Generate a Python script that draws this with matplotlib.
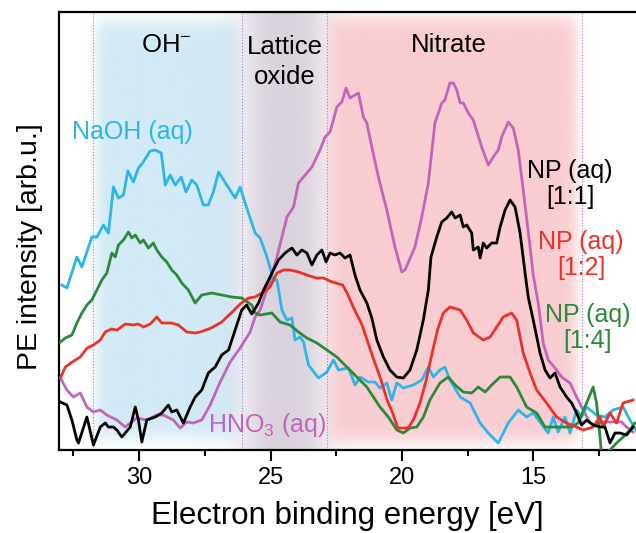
import numpy as np
import matplotlib
matplotlib.use("Agg")
import matplotlib.pyplot as plt
from matplotlib.colors import to_rgb
from matplotlib.ticker import MultipleLocator

plt.rcParams['font.family'] = ['Liberation Sans', 'DejaVu Sans']
plt.rcParams['mathtext.fontset'] = 'custom'
plt.rcParams['mathtext.rm'] = 'Liberation Sans'
plt.rcParams['mathtext.it'] = 'Liberation Sans:italic'

# --- data: binding energy [eV] vs PE intensity [arb.u.] ---
naoh_E = [32.94, 32.75, 32.37, 32.18, 31.80, 31.61, 31.36, 31.17, 30.98, 30.79, 30.60, 30.43, 30.22, 30.03, 29.87,
          29.58, 29.39, 29.16, 29.01, 28.82, 28.63, 28.40, 28.22, 28.00, 27.81, 27.56, 27.37, 27.18, 26.98, 26.67,
          26.35, 26.16, 25.97, 25.59, 25.40, 25.14, 24.89, 24.76, 24.57, 24.38, 24.19, 24.07, 23.88, 23.75, 23.56,
          23.18, 22.86, 22.61, 22.42, 22.04, 21.79, 21.60, 21.28, 21.03, 20.84, 20.58, 20.39, 20.20, 19.95, 19.57,
          19.25, 19.00, 18.81, 18.56, 18.37, 18.18, 17.79, 17.41, 17.03, 16.72, 16.34, 15.96, 15.58, 15.26, 15.01,
          14.44, 14.25, 14.06, 13.80, 13.61, 13.36, 13.17, 12.98, 12.60, 12.28, 11.97, 11.59, 11.33, 11.10]
naoh_I = [165, 162, 193, 183, 213, 213, 225, 217, 263, 252, 255, 279, 268, 282, 287,
          299, 300, 297, 265, 275, 265, 273, 258, 270, 265, 245, 245, 258, 278, 265,
          252, 263, 247, 217, 212, 193, 170, 170, 140, 130, 132, 110, 113, 108, 85,
          72, 78, 90, 80, 82, 65, 73, 68, 68, 62, 67, 50, 67, 62, 65,
          70, 83, 73, 80, 83, 70, 53, 47, 27, 17, 7, 27, 40, 33, 37,
          17, 33, 18, 33, 17, 40, 33, 43, 35, 33, 40, 43, 30, 20]

hno3_E = [33.00, 32.75, 32.50, 32.24, 31.99, 31.74, 31.48, 31.23, 30.85, 30.53, 30.09, 29.71, 29.33, 29.08, 28.70,
          28.44, 28.19, 27.94, 27.62, 27.30, 26.92, 26.54, 26.16, 25.78, 25.59, 25.40, 25.02, 24.76, 24.38, 24.13,
          23.94, 23.62, 23.43, 23.12, 22.93, 22.74, 22.48, 22.29, 22.13, 21.98, 21.66, 21.47, 21.34, 21.15, 20.90,
          20.58, 20.27, 20.01, 19.89, 19.51, 19.25, 19.00, 18.75, 18.49, 18.37, 18.18, 18.05, 17.92, 17.79, 17.67,
          17.48, 17.29, 16.97, 16.72, 16.53, 16.34, 16.21, 15.96, 15.77, 15.58, 15.39, 15.13, 15.01, 14.82, 14.63,
          14.44, 14.18, 13.93, 13.61, 13.36, 13.11, 12.85, 12.66, 12.35, 11.97, 11.65, 11.46, 11.21]
hno3_I = [72, 60, 53, 57, 43, 38, 40, 35, 30, 23, 32, 30, 35, 35, 30,
          22, 28, 27, 30, 45, 68, 88, 102, 118, 133, 140, 170, 193, 233, 243,
          267, 277, 283, 300, 313, 318, 343, 348, 362, 352, 357, 333, 327, 303, 273,
          240, 203, 178, 180, 203, 233, 267, 327, 347, 350, 367, 367, 360, 347, 347,
          337, 330, 303, 285, 293, 300, 313, 328, 322, 300, 260, 203, 175, 147, 107,
          90, 82, 73, 67, 53, 40, 27, 25, 28, 28, 28, 23, 18]

np11_E = [33.00, 32.75, 32.56, 32.37, 32.31, 31.99, 31.74, 31.48, 31.29, 31.17, 30.98, 30.85, 30.66, 30.34, 30.15,
          30.03, 29.90, 29.71, 29.39, 29.14, 28.89, 28.76, 28.57, 28.32, 28.06, 27.87, 27.62, 27.37, 27.11, 26.86,
          26.60, 26.35, 26.10, 25.91, 25.72, 25.46, 25.27, 25.02, 24.95, 24.70, 24.45, 24.19, 24.00, 23.81, 23.62,
          23.43, 23.24, 23.05, 22.89, 22.74, 22.55, 22.36, 22.17, 21.98, 21.79, 21.60, 21.34, 21.15, 20.96, 20.71,
          20.46, 20.20, 19.95, 19.70, 19.44, 19.19, 19.00, 18.90, 18.68, 18.49, 18.30, 18.11, 17.98, 17.79, 17.67,
          17.54, 17.35, 17.29, 17.10, 17.03, 16.91, 16.78, 16.59, 16.40, 16.27, 16.08, 15.89, 15.70, 15.51, 15.32,
          15.20, 15.01, 14.75, 14.56, 14.37, 14.18, 13.99, 13.74, 13.55, 13.36, 13.17, 12.98, 12.73, 12.47, 12.28,
          12.09, 11.90, 11.71, 11.46, 11.21]
np11_I = [48, 45, 30, 10, 7, 33, 5, 23, 27, 23, 23, 20, 13, 23, 43,
          30, 8, 30, 33, 37, 45, 38, 40, 27, 43, 53, 60, 77, 83, 95,
          100, 120, 140, 145, 136, 147, 160, 173, 177, 190, 197, 202, 195, 200, 197,
          185, 195, 200, 188, 197, 195, 197, 192, 195, 175, 160, 147, 132, 110, 93,
          80, 73, 72, 80, 100, 130, 160, 193, 213, 228, 232, 238, 232, 235, 223,
          225, 217, 200, 203, 192, 207, 202, 207, 207, 223, 240, 250, 243, 217, 177,
          153, 130, 97, 80, 72, 77, 63, 53, 47, 37, 25, 30, 25, 23, 23,
          7, 17, 17, 15, 23]

np12_E = [33.00, 32.81, 32.55, 32.24, 31.98, 31.74, 31.48, 31.29, 31.06, 30.84, 30.53, 30.22, 30.04, 29.84, 29.58,
          29.33, 29.14, 28.97, 28.78, 28.51, 28.19, 27.87, 27.68, 27.26, 26.86, 26.50, 26.16, 25.84, 25.59, 25.27,
          25.02, 24.76, 24.51, 24.26, 23.94, 23.62, 23.27, 22.99, 22.66, 22.26, 22.09, 21.86, 21.52, 21.33, 21.10,
          20.80, 20.57, 20.34, 20.17, 19.96, 19.77, 19.57, 19.32, 19.08, 18.83, 18.65, 18.43, 18.18, 17.79, 17.54,
          17.29, 16.91, 16.65, 16.40, 16.15, 15.83, 15.64, 15.39, 15.13, 14.88, 14.50, 14.12, 13.74, 13.36, 13.11,
          12.73, 12.47, 12.35, 12.09, 11.84, 11.59, 11.21]
np12_I = [72, 83, 88, 93, 102, 105, 110, 118, 121, 120, 126, 125, 126, 123, 126,
          133, 127, 127, 127, 125, 118, 117, 118, 122, 128, 137, 146, 152, 153, 158,
          163, 177, 180, 180, 178, 175, 172, 172, 168, 165, 157, 143, 125, 110, 92,
          70, 50, 36, 22, 22, 22, 30, 47, 70, 100, 120, 137, 143, 140, 130,
          117, 110, 113, 123, 133, 137, 130, 97, 77, 60, 47, 33, 27, 23, 20,
          23, 33, 23, 37, 27, 47, 50]

np14_E = [33.00, 32.81, 32.56, 32.37, 32.18, 31.99, 31.80, 31.61, 31.42, 31.23, 31.04, 30.91, 30.79, 30.60, 30.41,
          30.28, 30.15, 29.96, 29.84, 29.65, 29.46, 29.33, 29.14, 28.95, 28.76, 28.57, 28.38, 28.13, 27.87, 27.62,
          27.24, 26.86, 26.48, 26.10, 25.72, 25.59, 25.40, 24.95, 24.64, 24.26, 23.94, 23.62, 23.24, 22.86, 22.48,
          22.10, 21.72, 21.34, 21.09, 20.84, 20.52, 20.20, 19.95, 19.70, 19.44, 19.19, 18.94, 18.56, 18.24, 17.98,
          17.67, 17.35, 17.10, 16.84, 16.59, 16.27, 15.89, 15.64, 15.26, 14.88, 14.56, 14.25, 13.87, 13.55, 13.30,
          12.98, 12.73, 12.60, 12.47, 12.41, 12.09, 11.84, 11.59, 11.33, 11.14]
np14_I = [108, 112, 115, 127, 137, 145, 150, 160, 170, 177, 197, 193, 205, 210, 218,
          212, 215, 207, 210, 202, 207, 200, 193, 188, 180, 175, 167, 160, 147, 155,
          157, 155, 153, 152, 145, 137, 135, 137, 128, 125, 118, 112, 107, 100, 93,
          83, 73, 63, 53, 43, 33, 20, 17, 22, 23, 33, 50, 67, 73, 65,
          58, 57, 63, 58, 65, 73, 73, 63, 43, 37, 23, 23, 23, 23, 27,
          47, 63, 47, 13, -5, 0, 7, 13, 20, 27]

region_edges = [31.76, 26.08, 22.84, 13.14]
region_labels = ['OH$^{-}$', 'Lattice\noxide', 'Nitrate']
region_label_E = [28.97, 24.45, 18.21]

x_lo, x_hi = 33.05, 11.1
y_lo, y_hi = 0, 438

fig = plt.figure(figsize=(6.36, 5.33), dpi=100)
ax = fig.add_axes([0.0928, 0.1557, 0.9072, 0.8218])


def sig(z):
    return 1.0 / (1.0 + np.exp(-z))


def soft_band(lo, hi, soft, ylo, yhi, ysoft, color, peak=1.0):
    e = np.linspace(x_lo, x_hi, 700)
    v = np.linspace(y_lo, y_hi, 400)
    fx = sig((e - lo) / soft) * sig((hi - e) / soft)
    fy = sig((v - ylo) / ysoft) * sig((yhi - v) / ysoft)
    rgba = np.zeros((len(v), len(e), 4))
    rgba[..., :3] = to_rgb(color)
    rgba[..., 3] = np.outer(fy, fx) * peak
    ax.imshow(rgba, extent=(x_lo, x_hi, y_lo, y_hi), origin='lower', aspect='auto',
              interpolation='bilinear', zorder=0)


# shaded regions
soft_band(26.25, 31.62, 0.12, 12, 428, 5, '#d2eaf6')
soft_band(23.0, 25.95, 0.35, -100, 600, 1, '#d5cbd8', peak=0.9)
soft_band(13.35, 22.78, 0.15, 8, 432, 5, '#f9cdd1')

for e in region_edges:
    ax.axvline(e, color='#8c8cc0', ls=':', lw=0.8, zorder=1)

lw = 2.0
ax.plot(hno3_E, hno3_I, color='#c264b8', lw=lw, zorder=3)
ax.plot(naoh_E, naoh_I, color='#2ab6e8', lw=lw, zorder=3)
ax.plot(np14_E, np14_I, color='#2a8a3a', lw=lw, zorder=3)
ax.plot(np12_E, np12_I, color='#ea3228', lw=lw, zorder=3)
ax.plot(np11_E, np11_I, color='black', lw=lw, zorder=3)

for lab, e in zip(region_labels, region_label_E):
    yy = 388 if '\n' in lab else 405
    ax.text(e, yy, lab, fontsize=18.5, ha='center', va='center', linespacing=1.3, zorder=4)

ax.text(30.27, 318, 'NaOH (aq)', color='#2ab6e8', fontsize=18, ha='center', va='center', zorder=4)
ax.text(25.13, 25, 'HNO$_3$ (aq)', color='#c264b8', fontsize=18, ha='center', va='center', zorder=4)
ax.text(13.61, 266, 'NP (aq)\n[1:1]', color='black', fontsize=18, ha='center', va='center',
        linespacing=1.1, zorder=4)
ax.text(13.19, 195, 'NP (aq)\n[1:2]', color='#ea3228', fontsize=18, ha='center', va='center',
        linespacing=1.1, zorder=4)
ax.text(12.93, 122, 'NP (aq)\n[1:4]', color='#2a8a3a', fontsize=18, ha='center', va='center',
        linespacing=1.1, zorder=4)

ax.set_xlim(x_lo, x_hi)
ax.set_ylim(y_lo, y_hi)
ax.xaxis.set_major_locator(MultipleLocator(5))
ax.xaxis.set_minor_locator(MultipleLocator(2.5))
ax.set_yticks([])
ax.tick_params(axis='x', which='major', direction='out', length=8, width=1.5, labelsize=17, pad=4)
ax.tick_params(axis='x', which='minor', direction='out', length=4.5, width=1.5)
for s in ['left', 'top', 'bottom']:
    ax.spines[s].set_linewidth(1.6)
ax.spines['right'].set_visible(False)

ax.set_xlabel('Electron binding energy [eV]', fontsize=22.5, labelpad=9)
ax.set_ylabel('PE intensity [arb.u.]', fontsize=20.5)
ax.yaxis.set_label_coords(-0.028, 0.465)

fig.savefig('out.png', dpi=100)
